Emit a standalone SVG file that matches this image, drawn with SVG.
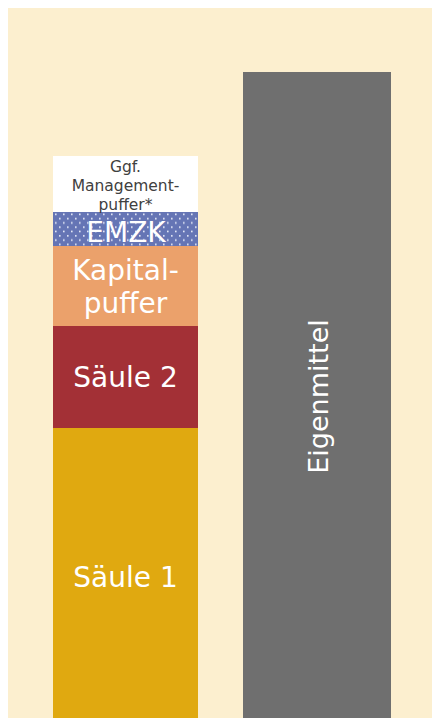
<svg xmlns="http://www.w3.org/2000/svg" width="432" height="718" viewBox="0 0 432 718">
  <defs>
    <pattern id="dots" x="53" y="212" width="8" height="8.6" patternUnits="userSpaceOnUse">
      <rect x="2" y="1.5" width="1.6" height="1.6" fill="#e8ecf8"/>
      <rect x="6" y="5.8" width="1.6" height="1.6" fill="#e8ecf8"/>
    </pattern>
    <style>
      .lbl { font-family: "DejaVu Sans", Verdana, sans-serif; fill: #ffffff; text-anchor: middle; }
      .big { font-size: 28px; }
      .small { font-size: 15.5px; fill: #404040; }
    </style>
  </defs>

  <!-- canvas -->
  <rect x="8" y="8" width="424" height="710" fill="#fcefcf"/>

  <!-- left stack -->
  <g id="saeule1">
    <rect x="53" y="428" width="145" height="290" fill="#e0a910"/>
    <text class="lbl big" x="125.5" y="587">Säule 1</text>
  </g>
  <g id="saeule2">
    <rect x="53" y="326" width="145" height="102" fill="#a33036"/>
    <text class="lbl big" x="125.5" y="387">Säule 2</text>
  </g>
  <g id="kapitalpuffer">
    <rect x="53" y="246" width="145" height="80" fill="#eba16b"/>
    <text class="lbl big" x="125.5" y="280">Kapital-</text>
    <text class="lbl big" x="125.5" y="313">puffer</text>
  </g>
  <g id="emzk">
    <rect x="53" y="212" width="145" height="34" fill="#6575b5"/>
    <rect x="53" y="212" width="145" height="34" fill="url(#dots)"/>
    <text class="lbl big" x="126" y="242">EMZK</text>
  </g>
  <g id="managementpuffer">
    <rect x="53" y="156" width="145" height="56" fill="#ffffff"/>
    <text class="lbl small" x="125.5" y="172">Ggf.</text>
    <text class="lbl small" x="125.5" y="191">Management-</text>
    <text class="lbl small" x="125.5" y="210">puffer*</text>
  </g>

  <!-- right column -->
  <g id="eigenmittel">
    <rect x="243" y="72" width="148" height="646" fill="#6f6f6f"/>
    <text class="lbl" font-size="27" transform="translate(327.5 396.5) rotate(-90)" x="0" y="0">Eigenmittel</text>
  </g>
</svg>
